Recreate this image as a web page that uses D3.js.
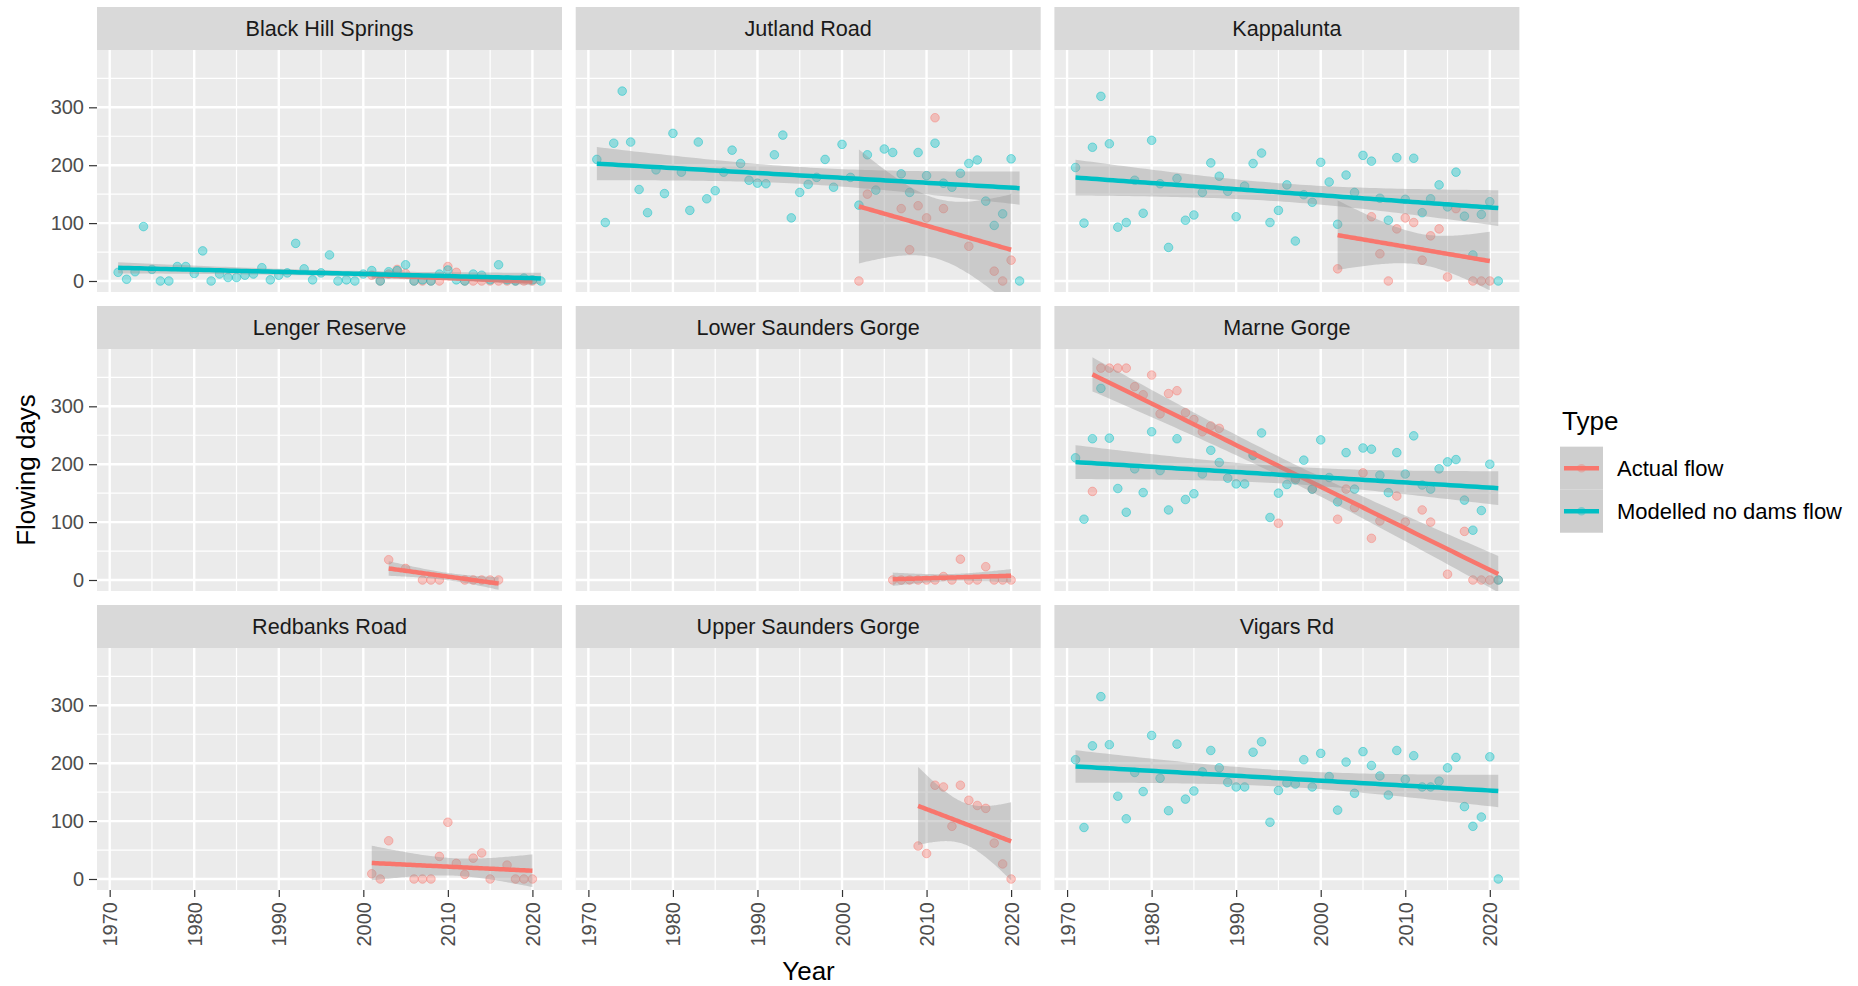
<!DOCTYPE html>
<html>
<head>
<meta charset="utf-8">
<script src="https://cdn.jsdelivr.net/npm/d3@7"></script>
<style>
  body { margin:0; background:#fff; }
  svg { display:block; font-family:"Liberation Sans", Arial, sans-serif; }
</style>
</head>
<body>
<svg id="chart" width="1858" height="986"></svg>
<script>
const sites = ["Black Hill Springs", "Jutland Road", "Kappalunta",
               "Lenger Reserve", "Lower Saunders Gorge", "Marne Gorge",
               "Redbanks Road", "Upper Saunders Gorge", "Vigars Rd"];
const types = ["Actual flow", "Modelled no dams flow"];
const typeColors = ["#F8766D", "#00BFC4"];
const xTicks = [1970, 1980, 1990, 2000, 2010, 2020];
const yTicks = [0, 100, 200, 300];

// modelled no dams flow, one value per year 1971-2021
const blackHillModelled = [15,3,16,94,20,0,0,25,25,13, 52,0,12,6,6,10,12,23,2,10,
  14,65,21,2,14,45,0,2,0,12, 18,0,16,18,28,0,2,0,12,19, 2,0,12,10,2,28,2,0,5,2, 0];
const jutlandModelled = [210,101,238,328,240,158,118,192,151,255, 188,122,240,142,156,188,226,203,174,169,
  168,218,252,109,153,167,179,210,162,236, 179,131,218,157,228,222,185,153,222,182,
  238,169,162,186,203,209,138,96,116,211, 0];
const kappaModelled = [196,100,231,319,237,93,101,174,117,243, 168,58,177,105,114,153,204,181,155,111,
  164,203,221,101,122,166,69,149,136,205, 171,98,183,153,217,207,143,105,213,141,
  212,118,142,166,128,188,112,45,115,137, 0];
const marneModelled = [211,105,244,331,245,158,117,192,151,256, 189,121,244,139,149,183,224,203,176,166,
  166,215,254,108,150,165,173,207,157,242, 177,135,220,157,228,226,181,151,220,183,
  249,164,157,192,204,208,138,86,120,200, 0];
const vigarsModelled = [206,89,230,315,232,143,104,184,151,248, 174,118,233,138,152,185,222,192,167,159,
  159,219,237,98,153,166,164,206,159,217, 177,119,202,148,220,196,178,145,222,172,
  213,159,159,169,192,210,125,91,107,211, 0];

// actual flow, null = no record that year
const blackHillActual = [10,0,12,20,13,0,0,0,0,25,15,0,0,0,0,0,0,0,0,0];               // 2001-2020
const jutlandActual = [0,150,null,null,null,125,54,130,109,282,125,null,null,60,null,null,17,0,36]; // 2002-2020
const kappaActual = [21,null,null,null,111,47,0,90,109,101,36,78,90,7,125,null,0,0,0];  // 2002-2020
const lengerActual = [35,null,20,null,0,0,0,null,null,0,0,0,0,0];                      // 2003-2016
const lowerSaundersActual = [0,0,0,0,0,0,6,0,36,0,0,23,0,0,0];                          // 2006-2020
const marneActual = [153,366,366,366,366,334,320,354,287,322, 327,289,277,256,266,262,null,null,null,216,
  null,null,98,null,176,null,157,null,null,105, 157,125,185,72,102,null,145,100,null,121,
  100,null,10,null,84,0,0,0,0];                                                         // 1973-2021
const redbanksActual = [9,0,66,null,null,0,0,0,39,98,27,8,36,45,0,null,24,0,0,0];       // 2001-2020
const upperSaundersActual = [57,44,162,159,91,162,136,127,122,62,26,0];                 // 2009-2020

const series = [
  { site:"Black Hill Springs",   type:0, start:2001, values:blackHillActual },
  { site:"Black Hill Springs",   type:1, start:1971, values:blackHillModelled },
  { site:"Jutland Road",         type:0, start:2002, values:jutlandActual },
  { site:"Jutland Road",         type:1, start:1971, values:jutlandModelled },
  { site:"Kappalunta",           type:0, start:2002, values:kappaActual },
  { site:"Kappalunta",           type:1, start:1971, values:kappaModelled },
  { site:"Lenger Reserve",       type:0, start:2003, values:lengerActual },
  { site:"Lower Saunders Gorge", type:0, start:2006, values:lowerSaundersActual },
  { site:"Marne Gorge",          type:0, start:1973, values:marneActual },
  { site:"Marne Gorge",          type:1, start:1971, values:marneModelled },
  { site:"Redbanks Road",        type:0, start:2001, values:redbanksActual },
  { site:"Upper Saunders Gorge", type:0, start:2009, values:upperSaundersActual },
  { site:"Vigars Rd",            type:1, start:1971, values:vigarsModelled }
];

// layout
const L = { left:97, top:7, pw:465, ph:242, strip:43, gapX:13.7, gapY:14 };

const x = d3.scaleLinear().domain([1968.5, 2023.5]).range([0, L.pw]);
const y = d3.scaleLinear().domain([-19, 399]).range([L.ph, 0]);

// student t 0.975 quantile (Cornish-Fisher)
function tQuant(df) {
  const z = 1.959964;
  const g1 = (z**3 + z) / 4;
  const g2 = (5*z**5 + 16*z**3 + 3*z) / 96;
  const g3 = (3*z**7 + 19*z**5 + 17*z**3 - 15*z) / 384;
  const g4 = (79*z**9 + 776*z**7 + 1482*z**5 - 1920*z**3 - 945*z) / 92160;
  return z + g1/df + g2/df**2 + g3/df**3 + g4/df**4;
}

// lm fit with 95% band, like geom_smooth(method="lm")
function fitLm(pts) {
  const n = pts.length;
  const mx = d3.mean(pts, d => d.x), my = d3.mean(pts, d => d.y);
  let sxx = 0, sxy = 0;
  pts.forEach(d => { sxx += (d.x-mx)**2; sxy += (d.x-mx)*(d.y-my); });
  const b = sxy / sxx, a = my - b*mx;
  let sse = 0;
  pts.forEach(d => { sse += (d.y - a - b*d.x)**2; });
  const s = Math.sqrt(sse / (n-2));
  const t = tQuant(n-2);
  const [x0, x1] = d3.extent(pts, d => d.x);
  return d3.range(80).map(i => {
    const xv = x0 + (x1-x0)*i/79;
    const fit = a + b*xv;
    const se = s*Math.sqrt(1/n + (xv-mx)**2/sxx);
    return { x:xv, y:fit, lo:fit - t*se, hi:fit + t*se };
  });
}

const svg = d3.select('#chart');

sites.forEach((site, i) => {
  const col = i % 3, row = Math.floor(i / 3);
  const gx = L.left + col*(L.pw + L.gapX);
  const gy = L.top + row*(L.strip + L.ph + L.gapY);

  const g = svg.append('g').attr('transform', `translate(${gx},${gy})`);

  // strip
  g.append('rect').attr('width', L.pw).attr('height', L.strip).attr('fill', '#D9D9D9');
  g.append('text')
    .attr('x', L.pw/2).attr('y', L.strip/2).attr('dy', '0.35em')
    .attr('text-anchor', 'middle').attr('font-size', 21.6).attr('fill', '#1A1A1A')
    .text(site);

  const p = g.append('g').attr('transform', `translate(0,${L.strip})`);
  p.append('rect').attr('width', L.pw).attr('height', L.ph).attr('fill', '#EBEBEB');

  // grid
  const grid = p.append('g').attr('stroke', '#fff');
  grid.selectAll('line.xmin').data([1975,1985,1995,2005,2015]).join('line')
    .attr('x1', d => x(d)).attr('x2', d => x(d)).attr('y1', 0).attr('y2', L.ph).attr('stroke-width', 1.2);
  grid.selectAll('line.ymin').data([50,150,250,350]).join('line')
    .attr('y1', d => y(d)).attr('y2', d => y(d)).attr('x1', 0).attr('x2', L.pw).attr('stroke-width', 1.2);
  grid.selectAll('line.xmaj').data(xTicks).join('line')
    .attr('x1', d => x(d)).attr('x2', d => x(d)).attr('y1', 0).attr('y2', L.ph).attr('stroke-width', 2.4);
  grid.selectAll('line.ymaj').data(yTicks).join('line')
    .attr('y1', d => y(d)).attr('y2', d => y(d)).attr('x1', 0).attr('x2', L.pw).attr('stroke-width', 2.4);

  const clipId = 'clip' + i;
  p.append('clipPath').attr('id', clipId)
    .append('rect').attr('width', L.pw).attr('height', L.ph);
  const plot = p.append('g').attr('clip-path', `url(#${clipId})`);

  const mine = series.filter(s => s.site === site).map(s => ({
    type: s.type,
    pts: s.values.map((v, k) => ({ x: s.start + k, y: v })).filter(d => d.y !== null)
  }));

  // points
  mine.forEach(s => {
    plot.append('g').selectAll('circle').data(s.pts).join('circle')
      .attr('cx', d => x(d.x)).attr('cy', d => y(d.y)).attr('r', 4.3)
      .attr('fill', typeColors[s.type]).attr('fill-opacity', 0.38)
      .attr('stroke', typeColors[s.type]).attr('stroke-opacity', 0.45).attr('stroke-width', 1);
  });

  // smooths
  mine.forEach(s => {
    const fit = fitLm(s.pts);
    plot.append('path').datum(fit)
      .attr('fill', '#999999').attr('fill-opacity', 0.4)
      .attr('d', d3.area().x(d => x(d.x)).y0(d => y(d.lo)).y1(d => y(d.hi)));
    plot.append('path').datum(fit)
      .attr('fill', 'none').attr('stroke', typeColors[s.type]).attr('stroke-width', 4.5)
      .attr('d', d3.line().x(d => x(d.x)).y(d => y(d.y)));
  });

  // axes
  if (col === 0) {
    const ax = p.append('g').call(d3.axisLeft(y).tickValues(yTicks).tickSize(8).tickPadding(5));
    ax.select('.domain').remove();
    ax.selectAll('line').attr('stroke', '#333333').attr('stroke-width', 1.2);
    ax.selectAll('text').attr('font-size', 20).attr('fill', '#4D4D4D')
      .attr('font-family', '"Liberation Sans", Arial, sans-serif');
  }
  if (row === 2) {
    const ax = p.append('g').attr('transform', `translate(0,${L.ph})`)
      .call(d3.axisBottom(x).tickValues(xTicks).tickFormat(d3.format('d')).tickSize(7));
    ax.select('.domain').remove();
    ax.selectAll('line').attr('stroke', '#333333').attr('stroke-width', 1.2);
    ax.selectAll('text')
      .attr('transform', 'rotate(-90)')
      .attr('x', -12).attr('y', 0).attr('dy', '0.35em')
      .attr('text-anchor', 'end')
      .attr('font-size', 20).attr('fill', '#4D4D4D')
      .attr('font-family', '"Liberation Sans", Arial, sans-serif');
  }
});

// axis titles
svg.append('text')
  .attr('x', 808.5).attr('y', 980).attr('text-anchor', 'middle')
  .attr('font-size', 26).attr('fill', '#000')
  .text('Year');
svg.append('text')
  .attr('transform', 'translate(35,470) rotate(-90)').attr('text-anchor', 'middle')
  .attr('font-size', 26).attr('fill', '#000')
  .text('Flowing days');

// legend
const leg = svg.append('g').attr('transform', 'translate(1560,430)');
leg.append('text').attr('x', 2).attr('y', 0).attr('font-size', 26).attr('fill', '#000').text('Type');
const key = leg.selectAll('g.key').data(types).join('g')
  .attr('class', 'key')
  .attr('transform', (d, i) => `translate(0,${16.7 + i*43})`);
key.append('rect').attr('width', 43).attr('height', 43).attr('fill', '#F2F2F2');
key.append('rect').attr('width', 43).attr('height', 43).attr('fill', '#999999').attr('fill-opacity', 0.4);
key.append('line')
  .attr('x1', 4).attr('x2', 39).attr('y1', 21.5).attr('y2', 21.5)
  .attr('stroke', (d, i) => typeColors[i]).attr('stroke-width', 4.5);
key.append('circle')
  .attr('cx', 21.5).attr('cy', 21.5).attr('r', 4.3)
  .attr('fill', (d, i) => typeColors[i]).attr('fill-opacity', 0.38);
key.append('text')
  .attr('x', 57).attr('y', 21.5).attr('dy', '0.35em')
  .attr('font-size', 22).attr('fill', '#000')
  .text(d => d);
</script>
</body>
</html>
